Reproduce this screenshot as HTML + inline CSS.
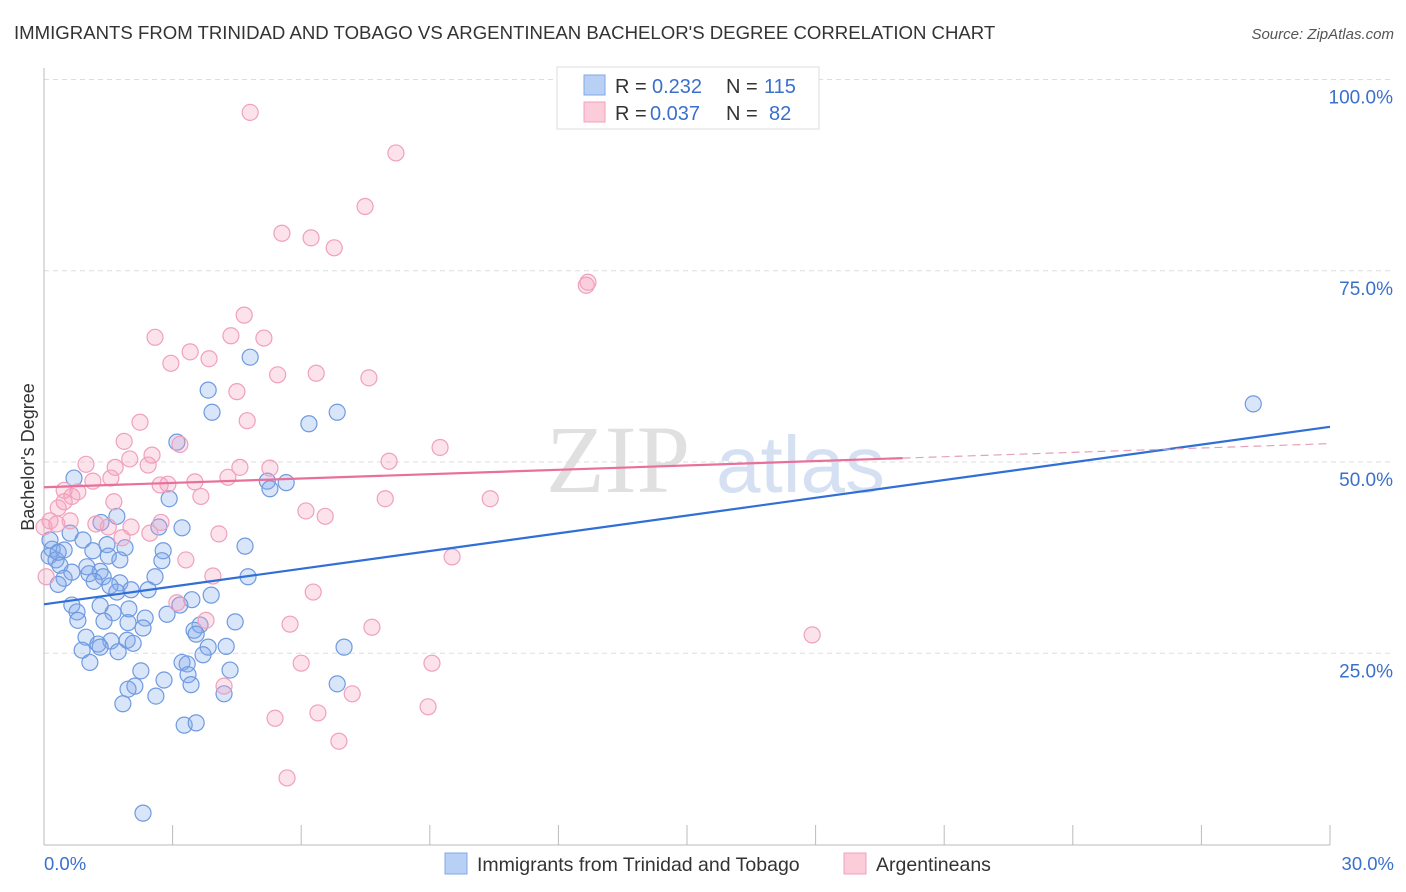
<!DOCTYPE html>
<html><head><meta charset="utf-8"><style>
body{margin:0;background:#fff;font-family:"Liberation Sans",sans-serif}
svg{display:block}
</style></head><body>
<svg id="c" width="1406" height="892" xmlns="http://www.w3.org/2000/svg">
<text x="14" y="39" font-size="18.6" fill="#333">IMMIGRANTS FROM TRINIDAD AND TOBAGO VS ARGENTINEAN BACHELOR'S DEGREE CORRELATION CHART</text>
<text x="1394" y="39" font-size="15" fill="#555" font-style="italic" text-anchor="end">Source: ZipAtlas.com</text>
<text x="690" y="492" font-size="96" font-family="Liberation Serif,serif" fill="#e0e0e0" text-anchor="end">ZIP</text>
<text x="716" y="492" font-size="80" fill="#d5e1f2">atlas</text>
<g id="grid"></g><g id="axes"></g><g id="pts"></g><g id="lines"></g>
<text transform="translate(34,457) rotate(-90)" font-size="18" fill="#333" text-anchor="middle">Bachelor's Degree</text>
<g>
<rect x="557" y="67" width="262" height="62" fill="#fff" stroke="#ddd"/>
<rect x="584" y="75" width="21" height="20" fill="#b8d0f4" stroke="#7fa8e6"/>
<text x="615" y="93" font-size="20" fill="#333">R = </text><text x="652" y="93" font-size="20" fill="#3a70cc">0.232</text>
<text x="726" y="93" font-size="20" fill="#333">N = </text><text x="764" y="93" font-size="20" fill="#3a70cc">115</text>
<rect x="584" y="102" width="21" height="20" fill="#fbccd9" stroke="#f0a0bc"/>
<text x="615" y="120" font-size="20" fill="#333">R = </text><text x="650" y="120" font-size="20" fill="#3a70cc">0.037</text>
<text x="726" y="120" font-size="20" fill="#333">N = </text><text x="769" y="120" font-size="20" fill="#3a70cc">82</text>
</g>
<g>
<rect x="445" y="853" width="22" height="21" fill="#b8d0f4" stroke="#7fa8e6"/>
<text x="477" y="871" font-size="19.5" fill="#333">Immigrants from Trinidad and Tobago</text>
<rect x="844" y="853" width="22" height="21" fill="#fbccd9" stroke="#f0a0bc"/>
<text x="876" y="871" font-size="19.5" fill="#333">Argentineans</text>
</g>
</svg>
<script>
const blueX=[4.81,3.83,3.92,6.84,6.18,28.21,3.10,0.70,5.21,5.65,5.27,2.92,1.70,1.33,2.68,3.22,0.61,4.69,0.91,1.47,1.89,2.78,0.19,0.47,1.14,0.12,0.28,1.50,1.77,2.75,0.37,1.00,1.31,0.65,1.05,1.38,0.47,1.17,0.33,1.77,1.54,2.59,4.76,1.70,2.43,2.03,3.90,3.45,0.65,1.31,3.17,1.98,0.77,1.61,2.87,0.79,1.40,2.36,4.46,1.96,3.64,2.31,3.50,3.55,0.98,1.56,1.94,1.26,2.08,3.83,4.25,0.89,1.73,1.31,7.00,3.71,1.07,3.22,3.34,2.26,4.34,3.36,2.80,3.43,6.84,2.12,1.96,4.20,2.61,1.84,3.27,3.55,2.31,0.14,0.33];
const blueY=[63.7,59.4,56.5,56.5,55.0,57.6,52.6,47.9,47.5,47.3,46.5,45.2,42.9,42.1,41.5,41.4,40.7,39.0,39.8,39.2,38.8,38.4,38.6,38.5,38.4,37.7,37.2,37.7,37.2,37.1,36.5,36.3,35.7,35.6,35.4,35.0,34.8,34.4,34.0,34.2,33.8,35.0,35.0,33.0,33.3,33.3,32.6,32.0,31.3,31.2,31.3,30.8,30.4,30.3,30.1,29.3,29.2,29.6,29.1,29.0,28.7,28.3,28.0,27.5,27.1,26.6,26.7,26.2,26.3,25.8,25.9,25.4,25.2,25.8,25.8,24.8,23.8,23.8,23.6,22.7,22.8,22.2,21.5,20.9,21.0,20.7,20.3,19.7,19.4,18.4,15.6,15.9,4.1,39.8,38.2];
const pinkX=[4.81,8.21,7.49,5.55,6.23,6.77,12.65,12.69,4.67,2.59,4.36,5.13,3.41,3.85,2.96,6.35,5.45,7.58,4.50,2.24,4.74,3.17,1.87,9.24,2.52,2.00,8.05,0.98,2.43,1.66,4.57,5.27,1.14,4.29,1.56,2.89,2.71,3.52,0.47,0.79,0.65,3.66,7.96,10.41,0.47,1.63,0.33,6.11,6.56,0.14,0.30,0.61,2.73,1.21,1.50,2.03,0.0,4.08,1.82,2.47,9.52,3.31,3.94,0.05,6.28,3.10,3.78,5.74,7.65,17.92,6.00,9.05,4.20,7.19,8.96,5.39,6.39,6.88,5.67];
const pinkY=[95.7,90.4,83.4,79.9,79.3,78.0,73.1,73.5,69.2,66.3,66.5,66.2,64.4,63.5,62.9,61.6,61.4,61.0,59.2,55.2,55.4,52.3,52.7,51.9,50.9,50.4,50.1,49.7,49.6,49.3,49.3,49.2,47.5,48.0,47.9,47.1,47.0,47.4,46.3,46.1,45.5,45.5,45.2,45.2,44.8,44.8,44.0,43.6,42.9,42.3,41.9,42.3,42.1,41.9,41.5,41.5,41.5,40.6,40.1,40.7,37.6,37.2,35.1,35.0,33.0,31.6,29.3,28.8,28.4,27.4,23.7,23.7,20.7,19.7,18.0,16.5,17.2,13.5,8.7];
const blueTrend=[31.4,54.6];
const pinkTrend=[46.7,52.4];
const pinkSolidEnd=20.03;
const yTicks=[25,50,75,100];
const xLabels=["0.0%","30.0%"];
const NS="http://www.w3.org/2000/svg";
const X=v=>44+v/30*1286, Y=v=>844.5-v/100*765;
function mk(t,a,p){const e=document.createElementNS(NS,t);for(const k in a)e.setAttribute(k,a[k]);document.getElementById(p).appendChild(e);return e;}
yTicks.forEach(t=>{
 const g=mk('line',{x1:44,x2:1394,y1:Y(t),y2:Y(t),stroke:'#ddd','stroke-dasharray':'5,4'},'grid');
 
 
 const l=mk('text',{x:1393,y:Y(t)+24,'font-size':19,fill:'#3a70cc','text-anchor':'end'},'axes');
 l.textContent=t.toFixed(1)+'%';
 
 
});
mk('line',{x1:44,x2:44,y1:68,y2:845,stroke:'#bbb'},'axes');
mk('line',{x1:44,x2:1330,y1:845,y2:845,stroke:'#bbb'},'axes');
for(let i=0;i<=10;i++){const t=mk('line',{x1:X(i*3),x2:X(i*3),y1:825,y2:845,stroke:'#bbb'},'axes');
 
 }
[[0,'start',44],[1,'end',1394]].forEach(([i,a,x])=>{const l=mk('text',{x:x,y:870,'font-size':18.5,fill:'#3a70cc','text-anchor':a},'axes');l.textContent=xLabels[i];
 
 });
function pts(xs,ys,f,s,n){xs.forEach((x,i)=>{const c=mk('circle',{cx:X(x),cy:Y(ys[i]),r:8,fill:f,stroke:s,'stroke-width':1.2},'pts');
 
 });}
pts(blueX,blueY,'rgba(130,170,235,0.3)','#6f9ae0','trinidad-point');
pts(pinkX,pinkY,'rgba(245,160,190,0.3)','#f0a0bc','argentinean-point');
const ty=(tr,x)=>tr[0]+(tr[1]-tr[0])*x/30;
let b=mk('line',{x1:X(0),y1:Y(ty(blueTrend,0)),x2:X(30),y2:Y(ty(blueTrend,30)),stroke:'#2f6fd6','stroke-width':2.2},'lines');


let p=mk('line',{x1:X(0),y1:Y(ty(pinkTrend,0)),x2:X(pinkSolidEnd),y2:Y(ty(pinkTrend,pinkSolidEnd)),stroke:'#e8709a','stroke-width':2.2},'lines');


let pd=mk('line',{x1:X(pinkSolidEnd),y1:Y(ty(pinkTrend,pinkSolidEnd)),x2:X(30),y2:Y(ty(pinkTrend,30)),stroke:'#e8a0b8','stroke-width':1.2,'stroke-dasharray':'8,5'},'lines');


</script>
</body></html>
